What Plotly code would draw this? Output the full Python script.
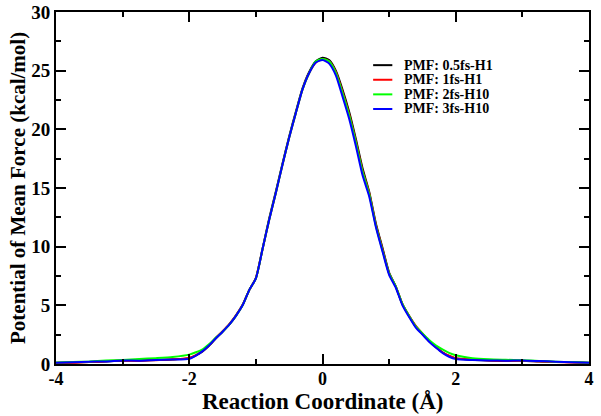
import plotly.graph_objects as go

x = [-4.0, -3.75, -3.5, -3.25, -3.0, -2.75, -2.5, -2.25, -2.0, -1.9, -1.8, -1.7, -1.6,
     -1.5, -1.4, -1.3, -1.2, -1.1, -1.0, -0.9, -0.8, -0.7, -0.6, -0.5, -0.4, -0.3,
     -0.2, -0.1, 0.0, 0.1, 0.2, 0.3, 0.4, 0.5, 0.6, 0.7, 0.8, 0.9, 1.0, 1.1, 1.2,
     1.3, 1.4, 1.5, 1.6, 1.7, 1.8, 1.9, 2.0, 2.25, 2.5, 2.75, 3.0, 3.25, 3.5, 3.75, 4.0]

pmf_05fs_h1 = [0.08, 0.12, 0.18, 0.22, 0.28, 0.30, 0.34, 0.38, 0.50, 0.74, 1.08, 1.58, 2.18,
               2.75, 3.35, 4.10, 5.00, 6.30, 7.30, 9.80, 12.4, 14.7, 17.1, 19.4, 21.5, 23.5,
               24.9, 25.8, 26.1, 25.9, 25.0, 23.4, 21.5, 19.2, 16.7, 14.7, 12.0, 9.9, 7.8,
               6.6, 5.1, 4.1, 3.2, 2.55, 1.95, 1.45, 1.0, 0.68, 0.48, 0.36, 0.30, 0.26,
               0.28, 0.22, 0.18, 0.14, 0.10]
pmf_1fs_h1 = [0.10, 0.10, 0.16, 0.24, 0.30, 0.26, 0.33, 0.40, 0.52, 0.76, 1.12, 1.62, 2.25,
              2.80, 3.40, 4.15, 5.05, 6.30, 7.35, 9.80, 12.3, 14.6, 17.0, 19.3, 21.4, 23.4,
              24.8, 25.7, 26.0, 25.8, 24.9, 23.2, 21.3, 19.0, 16.5, 14.6, 11.9, 9.8, 7.7,
              6.6, 5.1, 4.1, 3.25, 2.6, 1.95, 1.45, 1.0, 0.70, 0.50, 0.38, 0.30, 0.28,
              0.26, 0.24, 0.16, 0.12, 0.08]
pmf_2fs_h10 = [0.12, 0.18, 0.22, 0.30, 0.35, 0.42, 0.50, 0.60, 0.80, 1.00, 1.25, 1.70, 2.25,
               2.75, 3.35, 4.10, 5.00, 6.30, 7.30, 9.80, 12.3, 14.6, 17.0, 19.3, 21.4, 23.4,
               24.8, 25.8, 26.0, 25.8, 24.8, 23.1, 21.2, 18.9, 16.4, 14.5, 11.8, 9.7, 7.7,
               6.6, 5.1, 4.1, 3.2, 2.6, 2.05, 1.6, 1.25, 0.95, 0.75, 0.50, 0.40, 0.36,
               0.32, 0.26, 0.20, 0.16, 0.10]
pmf_3fs_h10 = [0.10, 0.15, 0.20, 0.22, 0.30, 0.28, 0.35, 0.38, 0.45, 0.72, 1.10, 1.60, 2.20,
               2.75, 3.35, 4.10, 5.00, 6.30, 7.30, 9.80, 12.3, 14.6, 17.0, 19.3, 21.4, 23.4,
               24.8, 25.7, 25.9, 25.6, 24.6, 22.8, 20.9, 18.6, 16.1, 14.3, 11.7, 9.6, 7.6,
               6.5, 5.0, 4.0, 3.1, 2.5, 1.9, 1.4, 0.95, 0.62, 0.42, 0.34, 0.30, 0.28,
               0.30, 0.25, 0.20, 0.15, 0.10]

series_names = ["PMF: 0.5fs-H1", "PMF: 1fs-H1", "PMF: 2fs-H10", "PMF: 3fs-H10"]
series_values = [pmf_05fs_h1, pmf_1fs_h1, pmf_2fs_h10, pmf_3fs_h10]
series_colors = ["#000000", "#ff0000", "#00ff00", "#0000ff"]

x_tickvals = [-4, -2, 0, 2, 4]
x_ticktext = ["-4", "-2", "0", "2", "4"]
y_tickvals = [0, 5, 10, 15, 20, 25, 30]

x_title = "Reaction Coordinate (Å)"
y_title = "Potential of Mean Force (kcal/mol)"

font_family = "Liberation Serif"

fig = go.Figure()
for name, y, color in zip(series_names, series_values, series_colors):
    fig.add_trace(go.Scatter(x=x, y=y, mode="lines", name=name, showlegend=False,
                             line=dict(color=color, width=2, shape="spline", smoothing=0.6)))

axis_common = dict(
    showgrid=False, zeroline=False, showline=True, linecolor="black", linewidth=2,
    mirror="ticks", ticks="inside", tickcolor="black", tickwidth=2, ticklen=10,
    automargin=False, ticklabeloverflow="allow",
)

fig.update_layout(
    width=601, height=416,
    margin=dict(l=56, r=12, t=12, b=52),
    paper_bgcolor="white", plot_bgcolor="white",
    xaxis=dict(range=[-4, 4], tickmode="array", tickvals=x_tickvals, ticktext=x_ticktext,
               minor=dict(dtick=1, tick0=-4, ticklen=5, ticks="inside", tickcolor="black", tickwidth=2),
               tickfont=dict(family=font_family, size=18, color="black", weight="bold"),
               ticklabelstandoff=-3,
               **axis_common),
    yaxis=dict(range=[0, 30], tickmode="array", tickvals=y_tickvals,
               minor=dict(dtick=2.5, tick0=0, ticklen=5, ticks="inside", tickcolor="black", tickwidth=2),
               tickfont=dict(family=font_family, size=19, color="black", weight="bold"),
               **axis_common),
)

# axis titles
fig.add_annotation(text=x_title, xref="paper", yref="paper", x=0.5, y=0,
                   xanchor="center", yanchor="middle", yshift=-37, showarrow=False,
                   font=dict(family=font_family, size=23, color="black", weight="bold"))
fig.add_annotation(text=y_title, xref="paper", yref="paper", x=0, y=0.5,
                   xanchor="center", yanchor="middle", xshift=-38, textangle=-90,
                   showarrow=False,
                   font=dict(family=font_family, size=21, color="black", weight="bold"))

# legend
leg_x0, leg_x1, leg_tx = 0.595, 0.631, 0.650
leg_y0, leg_dy = 0.849, 0.0415
for i, (name, color) in enumerate(zip(series_names, series_colors)):
    yy = leg_y0 - i * leg_dy
    fig.add_shape(type="line", xref="paper", yref="paper", x0=leg_x0, x1=leg_x1, y0=yy, y1=yy,
                  line=dict(color=color, width=2))
    fig.add_annotation(text=name, xref="paper", yref="paper", x=leg_tx, y=yy,
                       xanchor="left", yanchor="middle", showarrow=False,
                       font=dict(family=font_family, size=14, color="black", weight="bold"))

fig.write_html("out.html", config={"displayModeBar": False},
               post_script="document.body.style.margin='0';document.body.style.padding='0';")
